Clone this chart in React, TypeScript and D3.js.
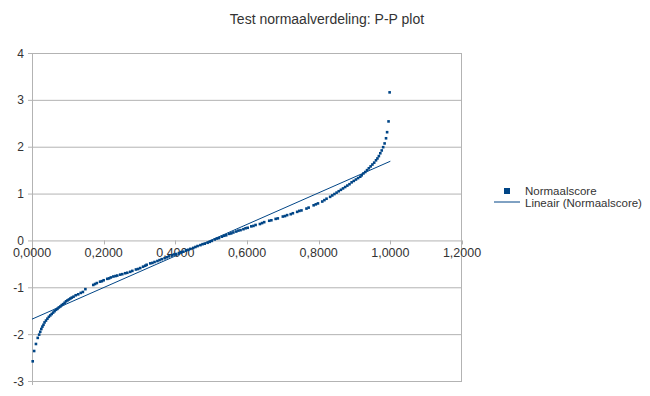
import React from "react";
import * as d3 from "d3";

const title = "Test normaalverdeling: P-P plot";
const seriesName = "Normaalscore";
const trendName = "Lineair (Normaalscore)";

const xTicks = [0, 0.2, 0.4, 0.6, 0.8, 1.0, 1.2];
const yTicks = [-3, -2, -1, 0, 1, 2, 3, 4];

// cumulative probability (x) and normal score (y)
const probs = [
  0.002, 0.006, 0.011, 0.016, 0.020, 0.023, 0.026, 0.029, 0.032, 0.035, 0.039, 0.043, 0.047, 0.051, 0.055,
  0.059, 0.063, 0.067, 0.071, 0.075, 0.079, 0.083, 0.087, 0.091, 0.095, 0.099, 0.103, 0.107, 0.111, 0.116,
  0.122, 0.129, 0.136, 0.142, 0.149, 0.171, 0.176, 0.181, 0.190, 0.195, 0.200, 0.210, 0.215, 0.220, 0.227,
  0.233, 0.238, 0.246, 0.252, 0.260, 0.266, 0.274, 0.280, 0.290, 0.296, 0.302, 0.310, 0.316, 0.320, 0.330,
  0.336, 0.342, 0.350, 0.356, 0.362, 0.370, 0.376, 0.382, 0.390, 0.396, 0.402, 0.410, 0.416, 0.422, 0.430,
  0.436, 0.442, 0.450, 0.456, 0.462, 0.470, 0.476, 0.482, 0.490, 0.496, 0.502, 0.510, 0.516, 0.522, 0.530,
  0.536, 0.542, 0.550, 0.556, 0.562, 0.570, 0.576, 0.582, 0.590, 0.596, 0.602, 0.612, 0.618, 0.624, 0.636,
  0.642, 0.648, 0.662, 0.668, 0.680, 0.686, 0.700, 0.706, 0.712, 0.722, 0.728, 0.740, 0.746, 0.752, 0.766,
  0.772, 0.786, 0.792, 0.798, 0.810, 0.816, 0.822, 0.832, 0.838, 0.844, 0.850, 0.856, 0.862, 0.868, 0.874,
  0.880, 0.886, 0.892, 0.898, 0.904, 0.910, 0.916, 0.920, 0.925, 0.930, 0.935, 0.940, 0.945, 0.950, 0.955,
  0.960, 0.964, 0.968, 0.972, 0.976, 0.980, 0.984, 0.988, 0.991, 0.995, 0.998,
];
const scores = [
  -2.58, -2.36, -2.21, -2.08, -2.01, -1.95, -1.89, -1.84, -1.80, -1.75, -1.71, -1.67, -1.63, -1.60, -1.57,
  -1.54, -1.51, -1.48, -1.46, -1.43, -1.41, -1.38, -1.36, -1.33, -1.30, -1.28, -1.26, -1.24, -1.22, -1.20,
  -1.17, -1.15, -1.12, -1.10, -1.04, -0.95, -0.93, -0.91, -0.88, -0.87, -0.85, -0.82, -0.81, -0.79, -0.77,
  -0.76, -0.75, -0.73, -0.72, -0.70, -0.69, -0.67, -0.65, -0.62, -0.61, -0.59, -0.56, -0.54, -0.52, -0.49,
  -0.48, -0.46, -0.44, -0.42, -0.40, -0.38, -0.36, -0.34, -0.32, -0.30, -0.29, -0.27, -0.25, -0.24, -0.21,
  -0.20, -0.18, -0.16, -0.14, -0.12, -0.10, -0.08, -0.07, -0.05, -0.03, -0.01, 0.02, 0.04, 0.05, 0.08,
  0.10, 0.11, 0.14, 0.15, 0.17, 0.19, 0.21, 0.22, 0.24, 0.26, 0.27, 0.30, 0.31, 0.33, 0.35,
  0.37, 0.39, 0.42, 0.43, 0.46, 0.47, 0.51, 0.52, 0.54, 0.56, 0.58, 0.61, 0.63, 0.64, 0.68,
  0.70, 0.75, 0.77, 0.79, 0.83, 0.86, 0.89, 0.93, 0.96, 0.99, 1.02, 1.05, 1.08, 1.11, 1.14,
  1.17, 1.20, 1.24, 1.27, 1.30, 1.33, 1.36, 1.39, 1.43, 1.46, 1.50, 1.54, 1.58, 1.62, 1.66,
  1.71, 1.75, 1.80, 1.86, 1.92, 1.99, 2.07, 2.18, 2.31, 2.54, 3.16,
];

// linear trend line
const trendX = [0, 1.0];
const trendY = [-1.68, 1.69];

const COLOR = "#004586";
const GRID = "#b3b3b3";
const TEXT = "#333333";
const FONT = "'Liberation Sans', Arial, sans-serif";

export default function App() {
  const W = 650;
  const H = 396;
  const x = d3.scaleLinear().domain([0, 1.2]).range([32, 462]);
  const y = d3.scaleLinear().domain([-3, 4]).range([381, 53]);
  const fmt = (v: number) => v.toFixed(4).replace(".", ",");
  const line = d3
    .line<number>()
    .x((_, i) => x(trendX[i]))
    .y((d) => y(d));

  return (
    <svg
      width={W}
      height={H}
      style={{ position: "absolute", left: 0, top: 0, background: "#fff" }}
      fontFamily={FONT}
    >
      <rect x={0} y={0} width={W} height={H} fill="#fff" />
      <text x={327} y={24} textAnchor="middle" fontSize={14} fill={TEXT}>
        {title}
      </text>
      {/* gridlines */}
      {yTicks.map((t) => (
        <line key={"g" + t} x1={x(0) - 4} x2={x(1.2)} y1={y(t) + 0.5} y2={y(t) + 0.5} stroke={GRID} strokeWidth={1} />
      ))}
      {/* y axis and right border */}
      <line x1={x(0) + 0.5} x2={x(0) + 0.5} y1={y(4)} y2={y(-3) + 4} stroke={GRID} />
      <line x1={x(1.2) - 0.5} x2={x(1.2) - 0.5} y1={y(4)} y2={y(-3)} stroke={GRID} />
      {/* x axis ticks */}
      {xTicks.map((t) => (
        <line key={"xt" + t} x1={Math.round(x(t)) + 0.5} x2={Math.round(x(t)) + 0.5} y1={y(0)} y2={y(0) + 4} stroke={GRID} />
      ))}
      {yTicks.map((t) => (
        <text key={"yl" + t} x={24} y={y(t) + 4.5} textAnchor="end" fontSize={12} fill={TEXT}>
          {t}
        </text>
      ))}
      {xTicks.map((t) => (
        <text key={"xl" + t} x={x(t)} y={y(0) + 17} textAnchor="middle" fontSize={12.5} fill={TEXT}>
          {fmt(t)}
        </text>
      ))}
      {/* points */}
      {probs.map((p, i) => (
        <rect key={"p" + i} x={x(p) - 1.3} y={y(scores[i]) - 1.3} width={2.6} height={2.6} fill={COLOR} />
      ))}
      {/* trend line */}
      <path d={line(trendY) || ""} fill="none" stroke={COLOR} strokeWidth={1} />
      {/* legend */}
      <rect x={504} y={188} width={6} height={6} fill={COLOR} />
      <text x={525} y={194.5} fontSize={11.5} fill={TEXT}>
        {seriesName}
      </text>
      <line x1={494} x2={520} y1={202} y2={202} stroke={COLOR} strokeWidth={1} />
      <text x={525} y={206.5} fontSize={11.5} fill={TEXT}>
        {trendName}
      </text>
    </svg>
  );
}
